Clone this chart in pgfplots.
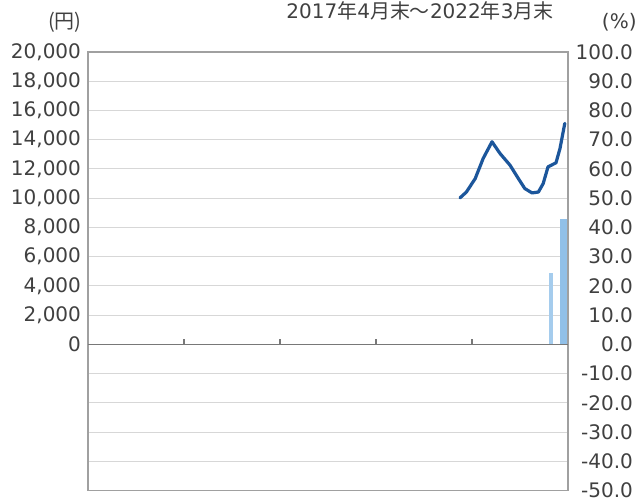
\documentclass[border=0pt]{standalone}
\usepackage{fontspec}
\setmainfont{DejaVu Sans}
\newfontfamily\cjk{Noto Sans CJK JP}
\usepackage{pgfplots}
\pgfplotsset{compat=1.18}
\definecolor{txt}{RGB}{64,64,64}
\definecolor{boxc}{RGB}{160,160,160}
\definecolor{gridc}{RGB}{215,215,215}
\definecolor{zeroc}{RGB}{120,120,120}
\definecolor{linec}{RGB}{28,86,155}
\definecolor{barc}{RGB}{165,204,237}
\definecolor{barcb}{RGB}{145,192,232}
\begin{document}
\begin{tikzpicture}
% right axis: percentages, grid, bars
\begin{axis}[
  at={(44pt,4.75pt)}, anchor=south west,
  scale only axis, width=240pt, height=219.25pt,
  xmin=0, xmax=60, ymin=-50, ymax=100,
  axis x line=none, axis y line*=right,
  y axis line style={draw=none},
  xtick=\empty,
  ytick={-50,-40,...,100},
  ymajorgrids, grid style={draw=gridc, line width=0.5pt},
  major tick length=0pt,
  yticklabel style={font=\fontsize{10}{12}\selectfont, text=txt, anchor=east, xshift=36pt},
  /pgf/number format/fixed, /pgf/number format/fixed zerofill, /pgf/number format/precision=1,
  /pgf/number format/assume math mode=true,
]
\addplot[ybar, bar width=0.5, bar shift=0pt, fill=barc, draw=none] coordinates {(57.9,24.5)};
\addplot[ybar, bar width=0.85, bar shift=0pt, fill=barcb, draw=none] coordinates {(59.45,42.9)};
\end{axis}
% left axis: yen, box, line
\begin{axis}[
  at={(44pt,4.75pt)}, anchor=south west,
  scale only axis, width=240pt, height=219.25pt,
  xmin=0, xmax=60, ymin=-10000, ymax=20000,
  xtick=\empty,
  ytick={0,2000,...,20000},
  yticklabel pos=left,
  scaled y ticks=false,
  axis line style={draw=boxc, line width=0.8pt},
  major tick length=0pt,
  yticklabel style={font=\fontsize{10}{12}\selectfont, text=txt},
  /pgf/number format/1000 sep={,},
  /pgf/number format/assume math mode=true,
  clip=false,
]
\addplot[zeroc, line width=0.6pt, no marks] coordinates {(0,0) (60,0)};
\addplot[zeroc, line width=0.6pt, no marks] coordinates {(12,0) (12,380)};
\addplot[zeroc, line width=0.6pt, no marks] coordinates {(24,0) (24,380)};
\addplot[zeroc, line width=0.6pt, no marks] coordinates {(36,0) (36,380)};
\addplot[zeroc, line width=0.6pt, no marks] coordinates {(48,0) (48,380)};
\addplot[linec, line width=1.6pt, no marks, line join=round, line cap=round] coordinates {
(46.5,10020) (47.3,10420) (48.4,11340) (49.4,12720) (50.5,13860) (51.5,13060)
(52.75,12260) (53.8,11340) (54.6,10660) (55.5,10360) (56.3,10420) (56.9,11000)
(57.5,12140) (58.5,12420) (59.0,13400) (59.6,15120)
};
\end{axis}
\node[anchor=east, inner sep=0pt, text=txt, font=\fontsize{10}{12}\selectfont\cjk] at (41pt,239pt) {(円)};
\node[anchor=east, inner sep=0pt, text=txt, font=\fontsize{10}{12}\selectfont] at (318.5pt,239pt) {(\%)};
\node[anchor=base, inner sep=0pt, text=txt, font=\fontsize{10}{12}\selectfont] at (210pt,240.8pt) {2017{\cjk 年}4{\cjk 月末～}2022{\cjk 年}3{\cjk 月末}};
\pgfresetboundingbox
\path[use as bounding box] (0pt,0pt) rectangle (319pt,250pt);
\end{tikzpicture}
\end{document}
